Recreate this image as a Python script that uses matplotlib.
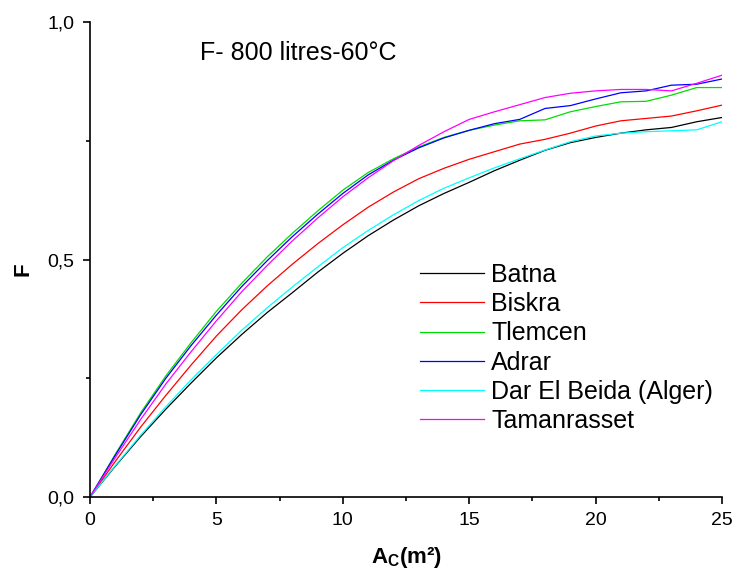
import matplotlib
matplotlib.use("Agg")
import matplotlib.pyplot as plt
import matplotlib.ticker as mticker

plt.rcParams['font.family'] = ['Liberation Sans', 'DejaVu Sans']
plt.rcParams['mathtext.fontset'] = 'custom'
plt.rcParams['mathtext.rm'] = 'Liberation Sans'
plt.rcParams['mathtext.bf'] = 'Liberation Sans:bold'

area = list(range(0, 26))

batna = [0, 0.065, 0.127, 0.185, 0.24, 0.293, 0.342, 0.388, 0.43, 0.473, 0.513,
         0.55, 0.583, 0.613, 0.639, 0.6625, 0.687, 0.709, 0.73, 0.746, 0.757,
         0.766, 0.773, 0.778, 0.79, 0.799]
biskra = [0, 0.075, 0.147, 0.214, 0.278, 0.339, 0.394, 0.444, 0.49, 0.533, 0.573,
          0.61, 0.642, 0.67, 0.692, 0.711, 0.727, 0.743, 0.753, 0.766, 0.781,
          0.792, 0.797, 0.802, 0.813, 0.825]
tlemcen = [0, 0.09, 0.177, 0.255, 0.325, 0.391, 0.45, 0.505, 0.555, 0.602, 0.646,
           0.683, 0.712, 0.737, 0.757, 0.772, 0.783, 0.792, 0.794, 0.811, 0.822,
           0.832, 0.833, 0.846, 0.862, 0.862]
adrar = [0, 0.088, 0.173, 0.25, 0.319, 0.383, 0.443, 0.497, 0.548, 0.595, 0.639,
         0.678, 0.709, 0.735, 0.756, 0.772, 0.786, 0.795, 0.818, 0.824, 0.838,
         0.851, 0.855, 0.867, 0.869, 0.88]
dar_el_beida = [0, 0.066, 0.13, 0.19, 0.247, 0.30, 0.351, 0.398, 0.442, 0.484, 0.525,
                0.561, 0.594, 0.624, 0.65, 0.672, 0.693, 0.712, 0.7305, 0.748, 0.76,
                0.766, 0.769, 0.771, 0.773, 0.79]
tamanrasset = [0, 0.083, 0.163, 0.238, 0.306, 0.371, 0.432, 0.487, 0.539, 0.587, 0.632,
               0.672, 0.708, 0.74, 0.769, 0.795, 0.811, 0.826, 0.841, 0.85, 0.855,
               0.858, 0.858, 0.855, 0.871, 0.888]

series = [
    ("Batna", batna, "black"),
    ("Biskra", biskra, "#ff0000"),
    ("Tlemcen", tlemcen, "#00dd00"),
    ("Adrar", adrar, "#0000ff"),
    ("Dar El Beida (Alger)", dar_el_beida, "#00ffff"),
    ("Tamanrasset", tamanrasset, "#ff00ff"),
]

fig = plt.figure(figsize=(7.36, 5.79), dpi=100)
ax = fig.add_axes([0.1223, 0.1416, 0.8587, 0.8204])

for name, values, color in series:
    ax.plot(area, values, color=color, linewidth=0.9, label=name)

ax.set_xlim(0, 25)
ax.set_ylim(0, 1.0)
ax.set_xticks([0, 5, 10, 15, 20, 25])
ax.xaxis.set_minor_locator(mticker.MultipleLocator(2.5))
ax.set_yticks([0, 0.5, 1.0])
ax.set_yticklabels(["0,0", "0,5", "1,0"])
ax.yaxis.set_minor_locator(mticker.MultipleLocator(0.25))

for side in ("top", "right"):
    ax.spines[side].set_visible(False)
for side in ("left", "bottom"):
    ax.spines[side].set_linewidth(1.2)

ax.tick_params(which="major", direction="out", length=5, width=1.2, labelsize=14, pad=6)
ax.tick_params(which="minor", direction="out", length=3, width=1.2)

ax.set_xlabel(r"A$_\mathbf{C}$(m²)", fontsize=16, fontweight="bold")
ax.xaxis.set_label_coords(0.5, -0.1)
ax.set_ylabel("F", fontsize=16, fontweight="bold")
ax.yaxis.set_label_coords(-0.09, 0.48)

ax.text(4.35, 0.935, "F- 800 litres-60°C", fontsize=18, va="center", ha="left")

ax.legend(loc="upper left", bbox_to_anchor=(0.522, 0.493), frameon=False,
          fontsize=18, handlelength=2.55, handletextpad=0.3, labelspacing=0.21,
          borderpad=0, borderaxespad=0)

fig.savefig("out.png", dpi=100)
